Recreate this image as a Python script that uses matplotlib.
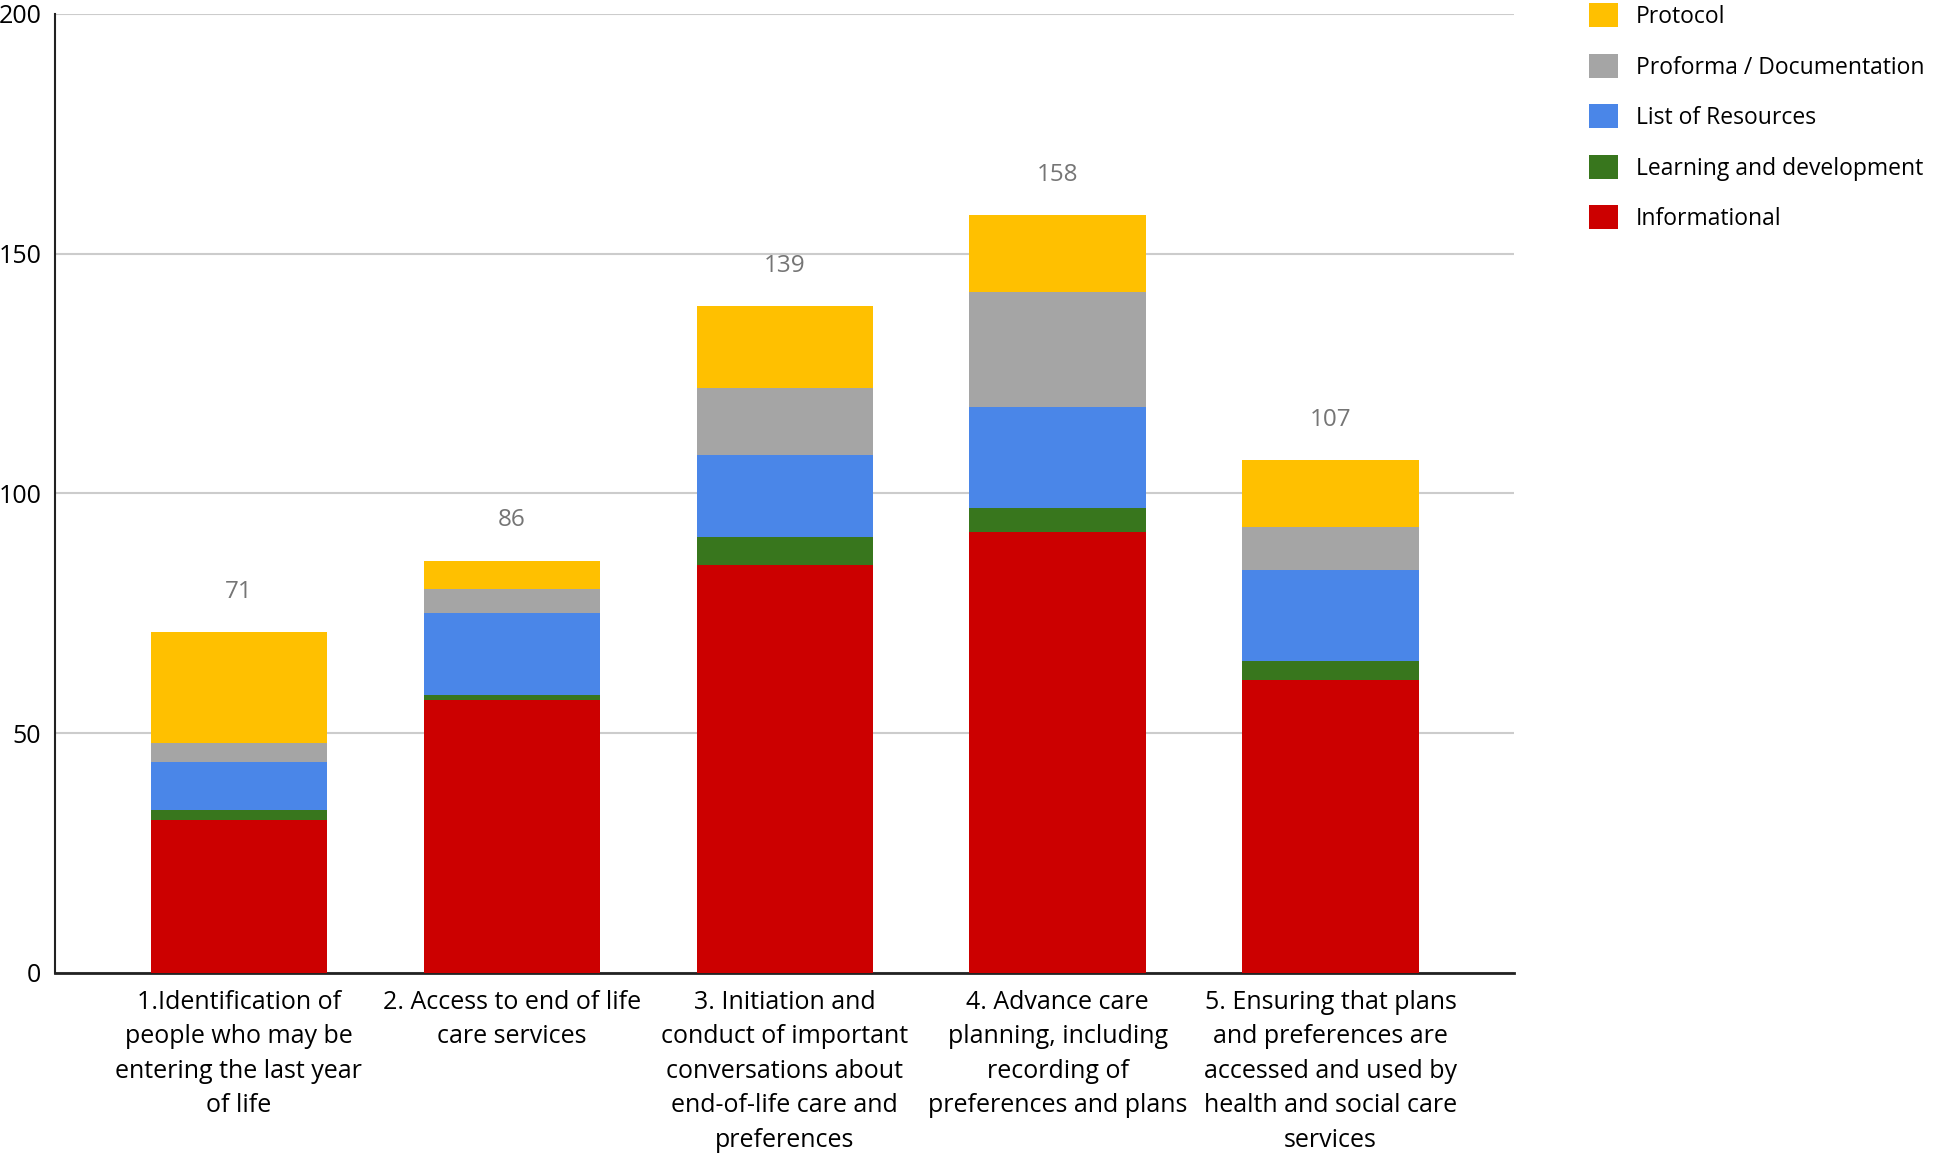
import numpy as np
import matplotlib.pyplot as plt
from matplotlib.patches import Patch

plt.rcParams['font.family'] = ['Open Sans', 'DejaVu Sans']

categories = [
    '1.Identification of\npeople who may be\nentering the last year\nof life',
    '2. Access to end of life\ncare services',
    '3. Initiation and\nconduct of important\nconversations about\nend-of-life care and\npreferences',
    '4. Advance care\nplanning, including\nrecording of\npreferences and plans',
    '5. Ensuring that plans\nand preferences are\naccessed and used by\nhealth and social care\nservices',
]

informational = [32, 57, 85, 92, 61]
learning = [2, 1, 6, 5, 4]
resources = [10, 17, 17, 21, 19]
proforma = [4, 5, 14, 24, 9]
protocol = [23, 6, 17, 16, 14]

SERIES = [
    ('Informational', informational, '#cc0000'),
    ('Learning and development', learning, '#38761d'),
    ('List of Resources', resources, '#4a86e8'),
    ('Proforma / Documentation', proforma, '#a5a5a5'),
    ('Protocol', protocol, '#ffc000'),
]

fig = plt.figure(figsize=(19.44, 11.55), dpi=100)
ax = fig.add_axes([0.0283, 0.1576, 0.7507, 0.8304])

x = np.arange(len(categories))
bottom = np.zeros(len(categories))
for name, vals, color in SERIES:
    ax.bar(x, vals, width=0.646, bottom=bottom, color=color, label=name, zorder=3)
    bottom += np.array(vals)

for xi, total in zip(x, bottom):
    ax.annotate(f'{int(total)}', (xi, total), xytext=(0, 29), textcoords='offset points',
                ha='center', va='center', fontsize=17.5, color='#757575')

ax.set_xlim(-0.674, 4.674)
ax.set_ylim(0, 200)
ax.set_yticks([0, 50, 100, 150, 200])
ax.grid(axis='y', color='#cccccc', linewidth=1.5, zorder=0)
ax.set_xticks(x)
ax.set_xticklabels(categories, fontsize=18, linespacing=1.5, va='top')
ax.tick_params(axis='both', length=0, labelsize=18)
ax.tick_params(axis='x', pad=12)
ax.tick_params(axis='y', pad=10)
for s in ['top', 'right']:
    ax.spines[s].set_visible(False)
ax.spines['left'].set_color('#222222')
ax.spines['left'].set_linewidth(1.5)
ax.spines['bottom'].set_color('#222222')
ax.spines['bottom'].set_linewidth(2.0)

handles = [Patch(facecolor=c, label=n) for n, _, c in SERIES[::-1]]
fig.legend(handles=handles, loc='upper left', bbox_to_anchor=(0.807, 1.015),
           frameon=False, fontsize=16.5, handlelength=1.24, handleheight=1.24,
           handletextpad=0.8, labelspacing=1.08)

fig.savefig('out.png', dpi=100)
